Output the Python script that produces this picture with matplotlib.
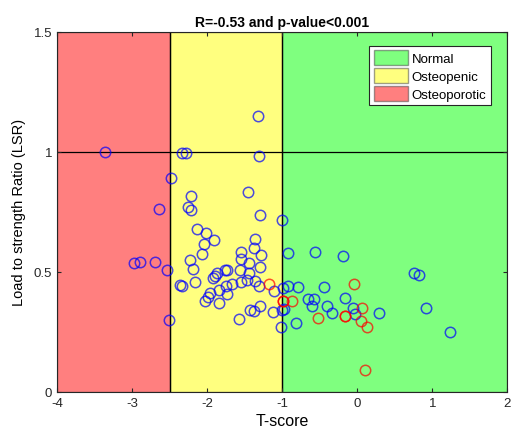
import matplotlib.pyplot as plt
import numpy as np

plt.rcParams['font.family'] = ['Liberation Sans', 'DejaVu Sans']
plt.rcParams['axes.unicode_minus'] = False

# T-score / LSR readings, blue group
blue_t = [-3.36, -2.65, -2.98, -2.90, -2.70, -2.54, -2.51, -2.49,
          -2.34, -2.29, -1.324, -1.315, -1.461, -2.222, -2.26, -2.217,
          -1.293, -1.008, -2.141, -2.017, -1.915, -2.04, -1.368, -1.377,
          -1.55, -1.284, -2.075, -2.23, -2.195, -1.555, -1.444, -1.293,
          -1.564, -1.741, -1.764, -1.444, -1.867, -1.893, -1.928, -2.164,
          -2.37, -2.34, -1.671, -1.551, -1.475, -1.368, -1.751, -1.307,
          -1.848, -1.733, -1.96, -1.99, -2.027, -1.844, -1.115, -1.297,
          -1.427, -1.373, -1.12, -1.581, -1.017,
          -0.987, -0.973, -1.004, -0.924, -0.56, -0.187, 0.756, 0.827,
          -0.44, -0.79, -0.924, -0.657, -0.577, -0.16, -0.608, -0.408,
          -0.333, -0.057, -0.027, 0.289, 0.92, 1.236, -0.821]
blue_lsr = [1.00, 0.764, 0.538, 0.542, 0.542, 0.507, 0.30, 0.89,
            0.996, 0.996, 1.151, 0.985, 0.832, 0.817, 0.772, 0.758,
            0.7375, 0.715, 0.68, 0.664, 0.633, 0.617, 0.636, 0.60,
            0.584, 0.572, 0.576, 0.549, 0.5125, 0.554, 0.5375, 0.52,
            0.508, 0.51, 0.51, 0.496, 0.495, 0.485, 0.475, 0.46,
            0.446, 0.44, 0.449, 0.46, 0.468, 0.464, 0.442, 0.443,
            0.426, 0.408, 0.4125, 0.395, 0.38, 0.37, 0.422, 0.36,
            0.342, 0.336, 0.332, 0.304, 0.27,
            0.433, 0.346, 0.342, 0.579, 0.582, 0.568, 0.495, 0.486,
            0.439, 0.4375, 0.443, 0.386, 0.389, 0.392, 0.357, 0.357,
            0.328, 0.351, 0.324, 0.33, 0.349, 0.251, 0.2875]

# red group (repeated entries overlap)
red_t = [-1.173, -0.995, -0.995, -0.871, -0.048, 0.063, -0.168, -0.168,
         -0.524, 0.049, 0.133, 0.098]
red_lsr = [0.449, 0.378, 0.378, 0.38, 0.45, 0.35, 0.315, 0.315,
           0.31, 0.296, 0.272, 0.092]

zones = ['Normal', 'Osteopenic', 'Osteoporotic']
zone_lims = [(-1, 2), (-2.5, -1), (-4, -2.5)]
zone_colors = [(0, 1, 0), (1, 1, 0), (1, 0, 0)]

fig = plt.figure(figsize=(5.11, 4.39), dpi=100)
ax = fig.add_axes([0.112, 0.105, 0.881, 0.820])

for name, (lo, hi), c in zip(zones, zone_lims, zone_colors):
    ax.axvspan(lo, hi, facecolor=c, alpha=0.5, edgecolor='none', label=name, zorder=0)
for xb in [-2.5, -1]:
    ax.axvline(xb, color='k', lw=0.9, zorder=1)
ax.axhline(1, color='k', lw=0.9, zorder=1)

ax.plot(blue_t, blue_lsr, 'o', ms=7.5, mfc='none', mec=(0, 0, 1), mew=1.1, alpha=0.7, zorder=3)
ax.plot(red_t, red_lsr, 'o', ms=7.5, mfc='none', mec=(1, 0, 0), mew=1.1, alpha=0.7, zorder=3)

ax.set_xlim(-4, 2)
ax.set_ylim(0, 1.5)
ax.set_xticks(range(-4, 3))
ax.set_yticks([0, 0.5, 1, 1.5])
ax.set_yticklabels(['0', '0.5', '1', '1.5'])
ax.tick_params(direction='in', top=True, right=True, labelsize=9.5, colors='#262626', length=3)
for s in ax.spines.values():
    s.set_color('#262626')
    s.set_linewidth(0.8)

ax.set_xlabel('T-score', fontsize=11.5, labelpad=3)
ax.set_ylabel('Load to strength Ratio (LSR)', fontsize=10.5, labelpad=6)
ax.set_title('R=-0.53 and p-value<0.001', fontsize=10, fontweight='bold', pad=4)

handles, labels = ax.get_legend_handles_labels()
for h in handles:
    h.set_edgecolor('#404040')
leg = ax.legend(handles, labels, loc='upper right', fontsize=9.5, fancybox=False,
                edgecolor='#262626', framealpha=1, bbox_to_anchor=(0.978, 0.98),
                handlelength=2.6, handleheight=1.3, labelspacing=0.25,
                handletextpad=0.25, borderpad=0.35)
leg.get_frame().set_linewidth(0.8)

plt.savefig('out.png', dpi=100)
